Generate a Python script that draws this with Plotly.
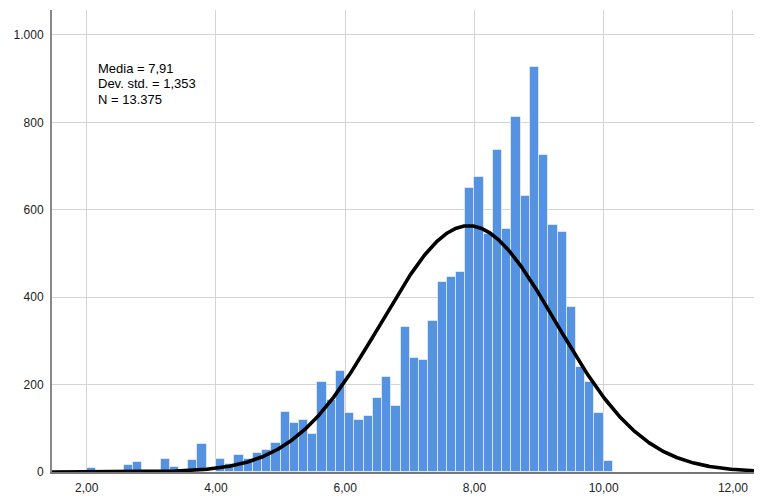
import math
import plotly.graph_objects as go

# Histogram data (bin width 1/7, first bin starts at 2,00)
BIN_START = 2.0
BIN_WIDTH = 1.0 / 7.0
COUNTS = [10, 0, 0, 0, 16, 24, 0, 0, 29, 11,
          0, 27, 63, 0, 30, 18, 38, 30, 44, 50,
          66, 137, 112, 118, 88, 206, 165, 231, 136, 118,
          129, 169, 218, 152, 331, 260, 257, 345, 434, 446,
          457, 649, 676, 545, 737, 556, 812, 632, 926, 725,
          566, 549, 377, 241, 205, 136, 25]

# Summary statistics shown on chart
MEAN = 7.91
SD = 1.353
N = 13375
STAT_LINES = ["Media = 7,91", "Dev. std. = 1,353", "N = 13.375"]

X_TICKS = [2, 4, 6, 8, 10, 12]
X_TICK_LABELS = ["2,00", "4,00", "6,00", "8,00", "10,00", "12,00"]
Y_TICKS = [0, 200, 400, 600, 800, 1000]
Y_TICK_LABELS = ["0", "200", "400", "600", "800", "1.000"]

centers = [BIN_START + (k + 0.5) * BIN_WIDTH for k in range(len(COUNTS))]

# Fitted normal curve from the displayed statistics
curve_x = [1.4 + i * 0.01 for i in range(1110)]
curve_y = [N * BIN_WIDTH / (SD * math.sqrt(2 * math.pi)) *
           math.exp(-0.5 * ((x - MEAN) / SD) ** 2) for x in curve_x]

fig = go.Figure()
fig.add_trace(go.Bar(
    x=centers, y=COUNTS, width=BIN_WIDTH,
    marker=dict(color="#5592e2", line=dict(color="rgba(255,255,255,0.55)", width=1)),
    hoverinfo="skip",
))
fig.add_trace(go.Scatter(
    x=curve_x, y=curve_y, mode="lines",
    line=dict(color="black", width=3.6),
    hoverinfo="skip",
))

# stats box: one annotation per line for tight line spacing
for i, line in enumerate(STAT_LINES):
    fig.add_annotation(
        x=2.16, y=924 - i * 35.5, xref="x", yref="y",
        text=line, showarrow=False, xanchor="left", yanchor="middle",
        borderpad=0,
        font=dict(family="Liberation Sans, Arial", size=13, color="black"),
    )

fig.update_layout(
    width=754, height=490,
    margin=dict(l=44, r=0, t=2, b=26, autoexpand=False),
    paper_bgcolor="white", plot_bgcolor="white",
    showlegend=False,
    bargap=0,
    separators=",.",
    font=dict(family="Liberation Sans, Arial", size=12, color="#222222"),
)
fig.update_xaxes(
    range=[1.463, 12.45],
    tickvals=X_TICKS, ticktext=X_TICK_LABELS,
    showgrid=True, gridcolor="#d4d4d4", gridwidth=1,
    showline=True, linecolor="#777777", linewidth=2,
    ticks="", zeroline=False, automargin=False, ticklabelstandoff=4,
)
fig.update_yaxes(
    range=[0, 1057],
    tickvals=Y_TICKS, ticktext=Y_TICK_LABELS,
    showgrid=True, gridcolor="#d4d4d4", gridwidth=1,
    showline=True, linecolor="#888888", linewidth=2,
    ticks="", zeroline=False, automargin=False, ticklabelstandoff=4,
)

fig.write_html("out.html")
